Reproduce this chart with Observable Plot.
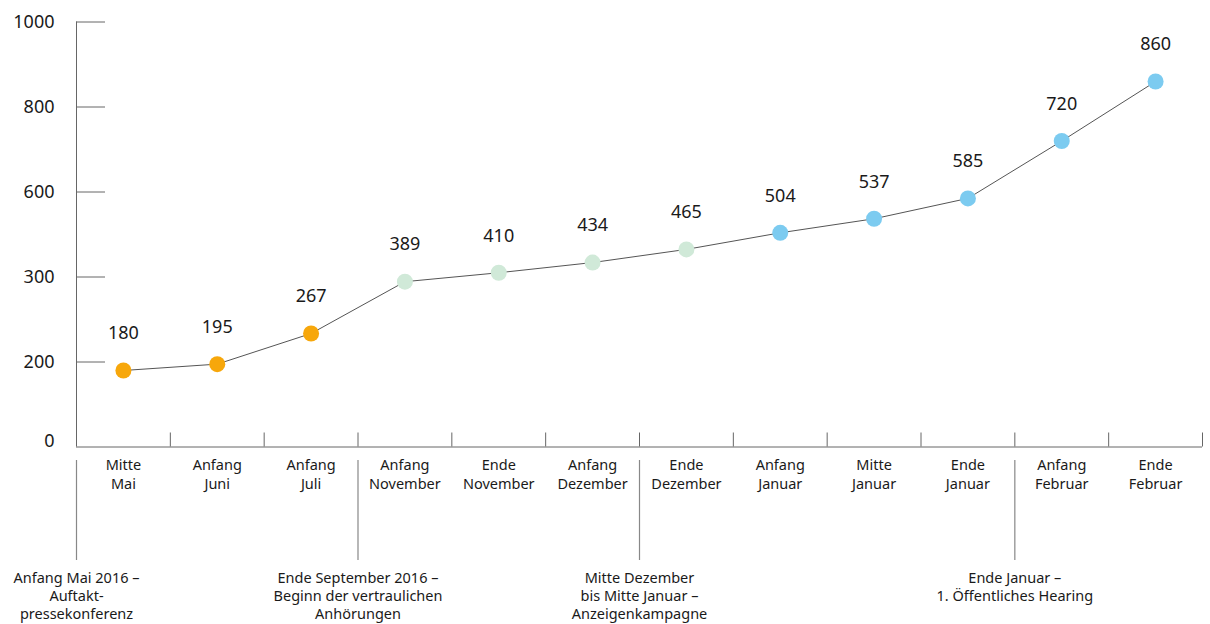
<!DOCTYPE html>
<html>
<head>
<meta charset="utf-8">
<script src="https://cdn.jsdelivr.net/npm/d3@7"></script>
<script src="https://cdn.jsdelivr.net/npm/@observablehq/plot@0.6"></script>
<style>
  html, body { margin: 0; padding: 0; background: #fff; }
  #chart svg { font-family: "Noto Sans", sans-serif; display: block; }
</style>
</head>
<body>
<div id="chart"></div>
<script>
// ---- data ----
const categories = [
  "Mitte\nMai", "Anfang\nJuni", "Anfang\nJuli", "Anfang\nNovember",
  "Ende\nNovember", "Anfang\nDezember", "Ende\nDezember", "Anfang\nJanuar",
  "Mitte\nJanuar", "Ende\nJanuar", "Anfang\nFebruar", "Ende\nFebruar"
];
const values = [180, 195, 267, 389, 410, 434, 465, 504, 537, 585, 720, 860];
const phases = ["a", "a", "a", "b", "b", "b", "b", "c", "c", "c", "c", "c"];
const phaseColors = { a: "#f7a70b", b: "#d0e9d8", c: "#7ccbf0" };

const yTicks = [0, 200, 400, 600, 800, 1000];
const yTickLabels = ["0", "200", "300", "600", "800", "1000"];

// events: placed at the left edge of the category they precede
const eventBefore = [0, 3, 6, 10];
const eventLabels = [
  "Anfang Mai 2016 –\nAuftakt-\npressekonferenz",
  "Ende September 2016 –\nBeginn der vertraulichen\nAnhörungen",
  "Mitte Dezember\nbis Mitte Januar –\nAnzeigenkampagne",
  "Ende Januar –\n1. Öffentliches Hearing"
];

// ---- tables ----
const points = categories.map((c, i) => ({ i, pos: i + 0.5, label: c, value: values[i], phase: phases[i] }));
const boundaries = d3.range(1, categories.length + 1);
const events = eventBefore.map((b, k) => ({ pos: b, label: eventLabels[k] }));
const fmt = d => yTickLabels[yTicks.indexOf(d)];

const chart = Plot.plot({
  width: 1210,
  height: 624,
  marginLeft: 76,
  marginRight: 8,
  marginTop: 21.5,
  marginBottom: 177.5,
  x: { domain: [0, categories.length], axis: null },
  y: { domain: [0, 1000], axis: null },
  style: { fontFamily: "Noto Sans, sans-serif", color: "#1a1a1a", overflow: "visible" },
  marks: [
    // y axis line & inward ticks
    Plot.ruleX([0], { y1: 0, y2: 1000, stroke: "#666", strokeWidth: 1 }),
    Plot.ruleY(yTicks.filter(d => d > 0), { y: d => d, x1: 0, x2: 0, insetRight: -29, stroke: "#666", strokeWidth: 1 }),
    Plot.axisY({
      ticks: yTicks.filter(d => d > 0),
      tickFormat: fmt,
      tickSize: 0,
      tickPadding: 22,
      fontSize: 18,
      label: null,
      fill: "#1a1a1a"
    }),
    Plot.axisY({
      ticks: [0],
      tickFormat: fmt,
      tickSize: 0,
      tickPadding: 22,
      fontSize: 18,
      label: null,
      dy: -6,
      fill: "#1a1a1a"
    }),
    // x axis line & boundary ticks
    Plot.ruleY([0], { x1: 0, x2: categories.length, stroke: "#666", strokeWidth: 1 }),
    Plot.ruleX(boundaries, { x: d => d, y1: 0, y2: 0, insetTop: -14, stroke: "#666", strokeWidth: 1 }),
    // category labels
    Plot.text(points, {
      x: "pos", y: 0, text: "label", lineAnchor: "top", dy: 10,
      fontSize: 14.5, lineHeight: 1.3, fill: "#1a1a1a"
    }),
    // event rules & labels
    Plot.ruleX(events, { x: "pos", y1: 0, y2: 0, insetTop: 13.5, insetBottom: -113.5, stroke: "#888", strokeWidth: 1.2 }),
    Plot.text(events, {
      x: "pos", y: 0, text: "label", lineAnchor: "top", dy: 123,
      fontSize: 14.5, lineHeight: 1.25, fill: "#1a1a1a"
    }),
    // series
    Plot.line(points, { x: "pos", y: "value", stroke: "#555", strokeWidth: 1 }),
    Plot.dot(points, { x: "pos", y: "value", r: 8, fill: d => phaseColors[d.phase], stroke: "none" }),
    Plot.text(points, { x: "pos", y: "value", text: d => String(d.value), dy: -37, fontSize: 18, fill: "#1a1a1a" })
  ]
});

document.getElementById("chart").appendChild(chart);
</script>
</body>
</html>
